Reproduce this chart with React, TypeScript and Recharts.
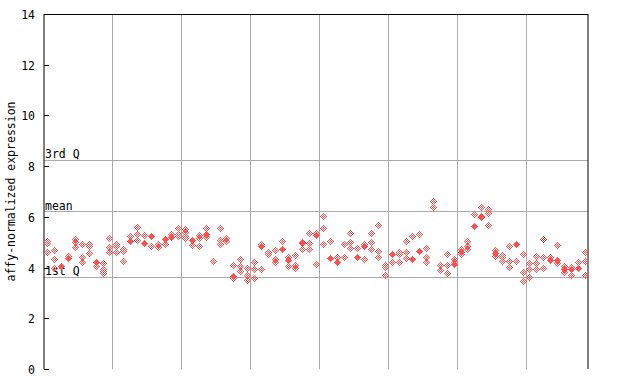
import React from 'react';
import {
  ScatterChart,
  Scatter,
  XAxis,
  YAxis,
  ReferenceLine,
} from 'recharts';

// hatched (open) diamonds per sample column, 8 groups of 10 columns (last has 9)
const hatchedValues: number[][] = [
  // group 1
  [5.05, 4.97, 4.6], [4.68, 4.35, 3.99], [], [4.47], [5.12, 5.0, 4.8],
  [4.93, 4.43, 4.22], [4.92, 4.85, 4.58], [4.07], [4.18, 3.95, 3.88, 3.77], [5.16, 4.83, 4.6],
  // group 2
  [4.94, 4.86, 4.62], [4.75, 4.67, 4.26], [5.24], [5.59, 5.31, 5.09], [5.27],
  [4.87], [4.94, 4.82], [4.92], [5.34], [5.56, 5.34, 5.24],
  // group 3
  [5.51, 5.39, 5.26, 5.15], [4.9], [5.27, 5.17, 4.86], [5.56, 5.22], [4.24],
  [5.56, 5.09, 4.92], [5.15, 5.06], [4.1, 3.58], [4.33, 4.06, 3.86], [3.97, 3.71, 3.51],
  // group 4
  [4.22, 3.93, 3.58], [4.92, 3.93], [4.63, 4.54], [4.68, 4.35, 4.22], [5.06],
  [4.4, 4.06], [4.5, 4.12, 3.97], [5.02, 4.72], [5.35, 4.95, 4.75], [5.37, 4.13],
  // group 5
  [6.03, 5.55, 4.93], [5.03], [4.42], [4.93, 4.4], [5.36, 5.02, 4.76],
  [4.76], [4.93, 4.33], [5.36, 5.02, 4.72], [5.68, 4.67, 4.43], [4.1, 4.01, 3.69],
  // group 6
  [4.21], [4.63, 4.54, 4.21], [5.05, 4.63, 4.36], [5.24], [5.32],
  [4.76, 4.4, 4.23], [6.62, 6.38], [4.1, 3.9], [4.53, 4.1, 3.77], [4.33, 4.22],
  // group 7
  [4.72, 4.52], [5.05, 4.85, 4.74], [6.1], [6.38, 5.98], [6.3, 6.14, 5.68],
  [4.68, 4.47], [4.51, 4.4, 4.27], [4.85, 4.27, 4.03], [4.24], [4.52, 3.82, 3.47],
  // group 8
  [4.19, 3.93, 3.62], [4.46, 4.17, 3.93], [5.11, 4.4, 3.97], [4.4], [4.88, 4.2],
  [4.06, 3.82], [4.03, 3.69], [4.23], [4.61, 4.27, 3.69],
];

// solid diamonds per column (null = none)
const filledValues: (number | null)[] = [
  null, null, 4.07, 4.38, null, null, null, 4.23, null, null,
  null, null, 5.06, null, 4.95, 5.26, null, 5.11, 5.19, null,
  null, 5.09, null, 5.32, null, null, null, 3.68, null, null,
  null, 4.84, null, null, 4.74, 4.28, null, 4.95, null, 5.28,
  null, 4.36, 4.23, null, null, 4.43, 4.85, null, null, null,
  4.55, null, null, 4.34, 4.64, null, null, null, null, 4.13,
  4.63, null, 5.65, 6.05, null, 4.57, null, null, 4.94, null,
  null, null, null, 4.28, 4.3, 3.93, 3.96, 3.99, null,
];

const yTicks = [0, 2, 4, 6, 8, 10, 12, 14];
const groupBreaks = [10, 20, 30, 40, 50, 60, 70];
const quartiles = [
  { label: '3rd Q', value: 8.23 },
  { label: 'mean', value: 6.21 },
  { label: '1st Q', value: 3.62 },
];

const nCols = hatchedValues.length;
const hatchedData = hatchedValues.flatMap((vals, i) => vals.map((v) => ({ x: i + 0.5, y: v })));
const filledData = filledValues
  .map((v, i) => (v == null ? null : { x: i + 0.5, y: v }))
  .filter((d) => d !== null) as { x: number; y: number }[];

const RED = '#ff4f4f';
const GRID = '#aaaaaa';
const FONT = '"DejaVu Sans Mono", monospace';
const FS = 11.5;

const pixelPath = (cx: number, cy: number, keep: (dx: number, dy: number) => boolean) => {
  let d = '';
  for (let dy = -3; dy <= 3; dy++) {
    const w = 3 - Math.abs(dy);
    for (let dx = -w; dx <= w; dx++) {
      if (keep(dx, dy)) d += `M${cx + dx} ${cy + dy}h1v1h-1z`;
    }
  }
  return d;
};

const HatchDiamond = (props: any) => {
  const cx = Math.round(props.cx);
  const cy = Math.round(props.cy);
  return <path d={pixelPath(cx, cy, (dx, dy) => Math.abs(dx + dy) % 2 === 1)} fill={RED} shapeRendering="crispEdges" />;
};

const SolidDiamond = (props: any) => {
  const cx = Math.round(props.cx);
  const cy = Math.round(props.cy);
  return <path d={pixelPath(cx, cy, () => true)} fill={RED} shapeRendering="crispEdges" />;
};

const LeftTick = (props: any) => {
  const { x, y, payload } = props;
  const yy = Math.round(y) + 0.5;
  return (
    <g>
      <line x1={x} x2={x + 5} y1={yy} y2={yy} stroke="#000" shapeRendering="crispEdges" />
      <text x={x - 9} y={yy} dy="0.35em" textAnchor="end" fontFamily={FONT} fontSize={FS} fill="#000">
        {payload.value}
      </text>
    </g>
  );
};

const RightTick = (props: any) => {
  const { x, y } = props;
  const yy = Math.round(y) + 0.5;
  return <line x1={x - 5} x2={x} y1={yy} y2={yy} stroke="#000" shapeRendering="crispEdges" />;
};

const YLabel = (props: any) => {
  const vb = props.viewBox || { x: 0, y: 14, width: 44, height: 355 };
  const cy = vb.y + vb.height / 2;
  return (
    <text
      x={11}
      y={cy}
      transform={`rotate(-90 11 ${cy})`}
      textAnchor="middle"
      dy="0.35em"
      fontFamily={FONT}
      fontSize={FS}
      fill="#000"
    >
      affy-normalized expression
    </text>
  );
};

const makeQLabel = (text: string) => (props: any) => {
  const vb = props.viewBox;
  return (
    <text x={vb.x + 1} y={vb.y - 2} fontFamily={FONT} fontSize={FS} fill="#000">
      {text}
    </text>
  );
};

export default function App() {
  return (
    <div style={{ position: 'absolute', left: 0, top: 0, width: 640, height: 384, background: '#fff' }}>
      <ScatterChart width={640} height={384} margin={{ top: 14, right: 0, bottom: 15, left: 0 }}>
        <XAxis
          type="number"
          dataKey="x"
          domain={[0, nCols]}
          ticks={groupBreaks}
          tick={false}
          tickLine={false}
          height={0}
          axisLine={{ stroke: '#000' }}
        />
        <YAxis
          type="number"
          dataKey="y"
          domain={[0, 14]}
          ticks={yTicks}
          width={44}
          tickSize={0}
          tickMargin={0}
          tick={<LeftTick />}
          axisLine={{ stroke: '#000' }}
          label={YLabel}
        />
        <YAxis
          yAxisId="right"
          orientation="right"
          type="number"
          domain={[0, 14]}
          ticks={yTicks}
          width={52}
          tickSize={0}
          tickMargin={0}
          tick={<RightTick />}
          axisLine={{ stroke: '#000' }}
        />
        {groupBreaks.map((b) => (
          <ReferenceLine key={b} x={b} stroke={GRID} shapeRendering="crispEdges" />
        ))}
        <ReferenceLine y={14} stroke="#000" shapeRendering="crispEdges" />
        {quartiles.map((q) => (
          <ReferenceLine
            key={q.label}
            y={q.value}
            stroke={GRID}
            shapeRendering="crispEdges"
            label={makeQLabel(q.label)}
          />
        ))}
        <Scatter data={hatchedData} shape={HatchDiamond} isAnimationActive={false} />
        <Scatter data={filledData} shape={SolidDiamond} isAnimationActive={false} />
      </ScatterChart>
    </div>
  );
}
